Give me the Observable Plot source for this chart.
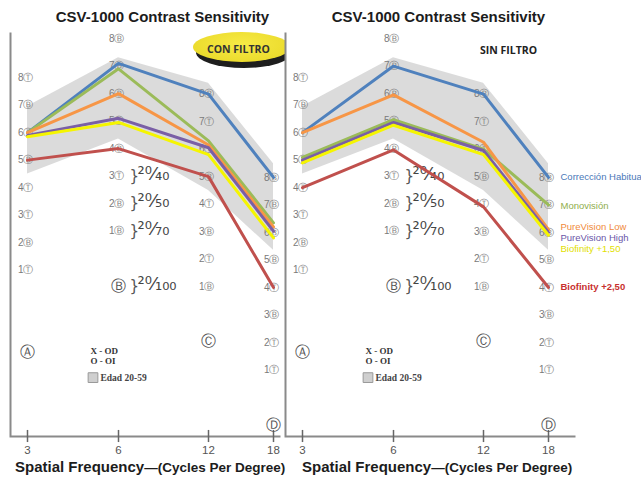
<!DOCTYPE html>
<html>
<head>
<meta charset="utf-8">
<script src="https://cdn.jsdelivr.net/npm/d3@7"></script>
<script src="https://cdn.jsdelivr.net/npm/@observablehq/plot@0.6"></script>
<style>
  body { margin: 0; background: #fff; }
  #wrap { position: relative; width: 641px; height: 481px; overflow: hidden; background: #fff;
          font-family: "Liberation Sans", Arial, sans-serif; }
  .title { position: absolute; top: 8px; font-weight: bold; font-size: 15px; line-height: 18px;
           color: #1c1c1c; white-space: nowrap; text-align: center; }
  .xlab { position: absolute; top: 458px; font-weight: bold; font-size: 15px; line-height: 18px;
          color: #1c1c1c; white-space: nowrap; }
  .xlab span { font-size: 13.5px; }
  .panel { position: absolute; top: 30px; }
  #badgeClip { position: absolute; left: 0; top: 0; width: 285px; height: 90px; overflow: hidden; }
  #badgeShadow { position: absolute; left: 196px; top: 37px; width: 96px; height: 31px; border-radius: 50%; background: #1e1e1e; }
  #badge { position: absolute; left: 193px; top: 32px; width: 97px; height: 30px; border-radius: 50%;
           background: radial-gradient(ellipse at 50% 40%, #f7ea45 0%, #ecdc2e 70%, #d9c920 100%); }
  .badgeText { position: absolute; font-family: "Open Sans", sans-serif; font-weight: bold; font-size: 10.5px;
               line-height: 12px; white-space: nowrap; }
</style>
</head>
<body>
<div id="wrap">
  <div class="title" style="left:40px;width:245px;">CSV-1000 Contrast Sensitivity</div>
  <div class="title" style="left:315px;width:247px;">CSV-1000 Contrast Sensitivity</div>
  <div id="leftPanel" class="panel" style="left:0px;"></div>
  <div id="badgeClip">
    <div id="badgeShadow"></div>
    <div id="badge"></div>
    <div class="badgeText" style="left:207px;top:43px;color:#333;">CON FILTRO</div>
  </div>
  <div id="rightPanel" class="panel" style="left:275px;"></div>
  <div class="badgeText" style="left:480px;top:44px;color:#222;">SIN FILTRO</div>
  <div class="xlab" style="left:15px;">Spatial Frequency<span>—(Cycles Per Degree)</span></div>
  <div class="xlab" style="left:302px;">Spatial Frequency<span>—(Cycles Per Degree)</span></div>
</div>
<script>
// ---------- data ----------
const frequencies = [3, 6, 12, 18];                 // cycles per degree
const columnLetters = ["Ⓐ", "Ⓑ", "Ⓒ", "Ⓓ"];
const columnLetterLevels = [-2, -1, -1, -1];
const rowShift = [5.05, 6.47, 4.45, 1.42];         // chart row of patch level 0 in each column
const patchLevels = [8, 7, 6, 5, 4, 3, 2, 1];
const patchRowA = ["T", "B", "T", "B", "T", "T", "B", "T"];
const patchRowB = ["B", "B", "B", "T", "B", "T", "B", "B"];
const patchRowC = ["B", "T", "T", "B", "T", "B", "T", "B"];
const patchRowD = ["B", "B", "B", "B", "T", "B", "T", "T"];
const acuityLabels = ["20/40", "20/50", "20/70", "20/100"];
const acuityLevels = [3, 2, 1, -1];

const series = ["Corrección Habitual", "Monovisión", "PureVision Low", "PureVision High", "Biofinity +1,50", "Biofinity +2,50"];

// CON FILTRO (patch level at 3, 6, 12, 18 cpd)
const conHabitual = [6.0, 7.1, 8.0, 8.0];
const conMono     = [6.0, 6.9, 6.3, 6.35];
const conPVLow    = [6.0, 6.0, 6.15, 6.2];
const conPVHigh   = [5.9, 5.1, 6.05, 6.05];
const conBio150   = [5.85, 4.95, 5.8, 5.8];
const conBio250   = [5.0, 4.0, 5.0, 4.0];

// SIN FILTRO
const sinHabitual = [6.0, 7.0, 8.0, 8.0];
const sinMono     = [5.1, 5.05, 6.0, 7.0];
const sinPVLow    = [6.0, 5.95, 6.25, 6.1];
const sinPVHigh   = [5.0, 4.95, 5.95, 6.0];
const sinBio150   = [4.9, 4.85, 5.8, 5.9];
const sinBio250   = [4.0, 3.95, 3.9, 4.0];

// normal range, age 20-59 (patch levels)
const normUpper = [6.95, 7.3, 8.4, 8.5];
const normLower = [4.5, 4.35, 4.5, 5.35];

// ---------- styles ----------
const seriesColors = ["#4f81bd", "#9bbb59", "#f79646", "#7a5fa6", "#f5f500", "#c0504d"];
const legendColors = ["#4a78b8", "#8fae4c", "#f08a3c", "#6a55a8", "#e2e000", "#c8302e"];
const legendDy = [0, 1, -3, 6, 14, 0];
const xRange = [27, 118, 208, 273];
const H = 428, MT = 2, MB = 22;

const SUP = {"0": "⁰", "1": "¹", "2": "²", "3": "³", "4": "⁴", "5": "⁵", "6": "⁶", "7": "⁷", "8": "⁸", "9": "⁹"};
const SUB = {"0": "₀", "1": "₁", "2": "₂", "3": "₃", "4": "₄", "5": "₅", "6": "₆", "7": "₇", "8": "₈", "9": "₉"};
function fraction(t) {
  const [n, d] = t.split("/");
  return [...n].map(c => SUP[c]).join("") + "⁄" + [...d].map(c => SUB[c]).join("");
}

function rowsFor(valueSets) {
  return series.flatMap((name, i) => frequencies.map((f, j) => ({
    series: name, freq: f, level: valueSets[i][j], row: valueSets[i][j] + rowShift[j]
  })));
}

function panel(valueSets, width, marginRight, withLegend) {
  const rows = rowsFor(valueSets);
  const band = frequencies.map((f, j) => ({freq: f, lo: normLower[j] + rowShift[j], hi: normUpper[j] + rowShift[j]}));
  const patchRows = [patchRowA, patchRowB, patchRowC, patchRowD];
  const labels = frequencies.flatMap((f, j) => patchLevels.map((L, k) => ({
    freq: f, row: L + rowShift[j], text: L + (patchRows[j][k] === "T" ? "Ⓣ" : "Ⓑ")
  })));
  const acuity = acuityLabels.map((t, i) => ({
    freq: frequencies[1], row: acuityLevels[i] + rowShift[1], text: fraction(t)
  }));
  const noteRow = columnLetterLevels[0] + rowShift[0];
  const W = width - 10 - marginRight, Hh = H - MT - MB;
  const lastIdx = frequencies.length - 1;

  const marks = [
    Plot.areaY(band, {x: "freq", y1: "lo", y2: "hi", fill: "#d9d9d9", fillOpacity: 0.95}),
    Plot.frame({stroke: "#8a8a8a", strokeWidth: 2, strokeDasharray: `0,${W + Hh},${W + Hh},0`}),
    Plot.ruleX(frequencies, {x: d => d, y1: -0.22, y2: 0.22, stroke: "#666", strokeWidth: 1.5}),
    Plot.text(frequencies, {x: d => d, y: 0, dy: 14, text: d => String(d), fontSize: 11.5, fill: "#555",
      fontFamily: "Liberation Sans, Arial, sans-serif"}),
    Plot.text(labels, {x: "freq", y: "row", text: "text", textAnchor: "end", dx: 6, fontSize: 10, fill: "#7a7a7a",
      fontFamily: "Liberation Sans, DejaVu Sans, sans-serif"}),
    Plot.text(frequencies, {x: d => d, y: (d, i) => columnLetterLevels[i] + rowShift[i], text: (d, i) => columnLetters[i],
      fontSize: 15, fill: "#555", fontFamily: "DejaVu Sans, sans-serif"}),
    Plot.text(acuity, {x: "freq", y: "row", text: () => "}", textAnchor: "start", dx: 11, dy: 0, fontSize: 15, fill: "#555",
      fontFamily: "DejaVu Sans, sans-serif"}),
    Plot.text(acuity, {x: "freq", y: "row", text: "text", textAnchor: "start", dx: 19, dy: -2, fontSize: 18, fill: "#444",
      fontFamily: "DejaVu Sans, sans-serif"}),
    Plot.text(["X - OD"], {x: () => frequencies[1], y: () => noteRow, text: d => d, textAnchor: "start", dx: -28, dy: -2,
      fontSize: 9, fontWeight: "bold", fill: "#333", fontFamily: "Liberation Serif, serif"}),
    Plot.text(["O - OI"], {x: () => frequencies[1], y: () => noteRow, text: d => d, textAnchor: "start", dx: -28, dy: 8,
      fontSize: 9, fontWeight: "bold", fill: "#333", fontFamily: "Liberation Serif, serif"}),
    Plot.dot(["Edad 20-59"], {x: () => frequencies[1], y: () => noteRow, dx: -25.5, dy: 25, symbol: "square", r: 5.5,
      fill: "#cfcfcf", stroke: "#999", strokeWidth: 1}),
    Plot.text(["Edad 20-59"], {x: () => frequencies[1], y: () => noteRow, text: d => d, textAnchor: "start", dx: -18, dy: 25,
      fontSize: 9.5, fontWeight: "bold", fill: "#444", fontFamily: "Liberation Serif, serif"}),
    Plot.line(rows, {x: "freq", y: "row", z: "series", stroke: "series", strokeWidth: 3, strokeLinejoin: "miter"})
  ];
  if (withLegend) {
    series.forEach((name, i) => {
      marks.push(Plot.text([name], {x: () => frequencies[lastIdx], y: () => valueSets[i][lastIdx] + rowShift[lastIdx],
        text: d => d, textAnchor: "start", dx: 12, dy: legendDy[i], fontSize: 9.5, fill: legendColors[i],
        fontWeight: i === 5 ? "bold" : "normal", fontFamily: "Liberation Sans, Arial, sans-serif"}));
    });
  }
  return Plot.plot({
    width, height: H, marginLeft: 10, marginRight, marginTop: MT, marginBottom: MB,
    style: {background: "transparent"},
    x: {type: "linear", domain: frequencies, range: xRange, axis: null},
    y: {domain: [0, 14], range: [H - MB, H - MB - 14 * 27.5], axis: null},
    color: {domain: series, range: seriesColors},
    marks
  });
}

document.getElementById("leftPanel").append(
  panel([conHabitual, conMono, conPVLow, conPVHigh, conBio150, conBio250], 285, 5, false));
document.getElementById("rightPanel").append(
  panel([sinHabitual, sinMono, sinPVLow, sinPVHigh, sinBio150, sinBio250], 366, 66, true));
</script>
</body>
</html>
